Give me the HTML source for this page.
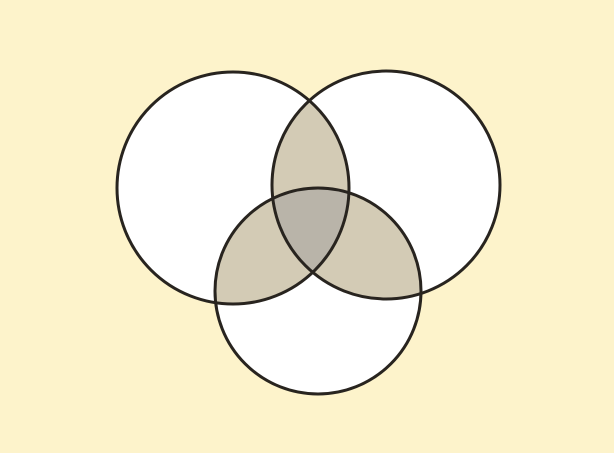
<!DOCTYPE html>
<html>
<head>
<meta charset="utf-8">
<style>
html,body{margin:0;padding:0;background:#fdf3cb;}
svg{display:block;}
</style>
</head>
<body>
<svg width="614" height="453" viewBox="0 0 614 453" xmlns="http://www.w3.org/2000/svg">
  <rect x="0" y="0" width="614" height="453" fill="#fdf3cb"/>
  <defs>
    <clipPath id="cA"><circle cx="233" cy="188" r="116"/></clipPath>
    <clipPath id="cB"><circle cx="386" cy="185" r="114"/></clipPath>
    <clipPath id="cC"><circle cx="318" cy="291" r="103"/></clipPath>
  </defs>
  <circle cx="233" cy="188" r="116" fill="#ffffff"/>
  <circle cx="386" cy="185" r="114" fill="#ffffff"/>
  <circle cx="318" cy="291" r="103" fill="#ffffff"/>
  <g clip-path="url(#cA)"><circle cx="386" cy="185" r="114" fill="#d3cbb5"/></g>
  <g clip-path="url(#cA)"><circle cx="318" cy="291" r="103" fill="#d3cbb5"/></g>
  <g clip-path="url(#cB)"><circle cx="318" cy="291" r="103" fill="#d3cbb5"/></g>
  <g clip-path="url(#cA)"><g clip-path="url(#cB)"><circle cx="318" cy="291" r="103" fill="#b9b4a9"/></g></g>
  <g fill="none" stroke="#28241f" stroke-width="3">
    <circle cx="233" cy="188" r="116"/>
    <circle cx="386" cy="185" r="114"/>
    <circle cx="318" cy="291" r="103"/>
  </g>
</svg>
</body>
</html>
